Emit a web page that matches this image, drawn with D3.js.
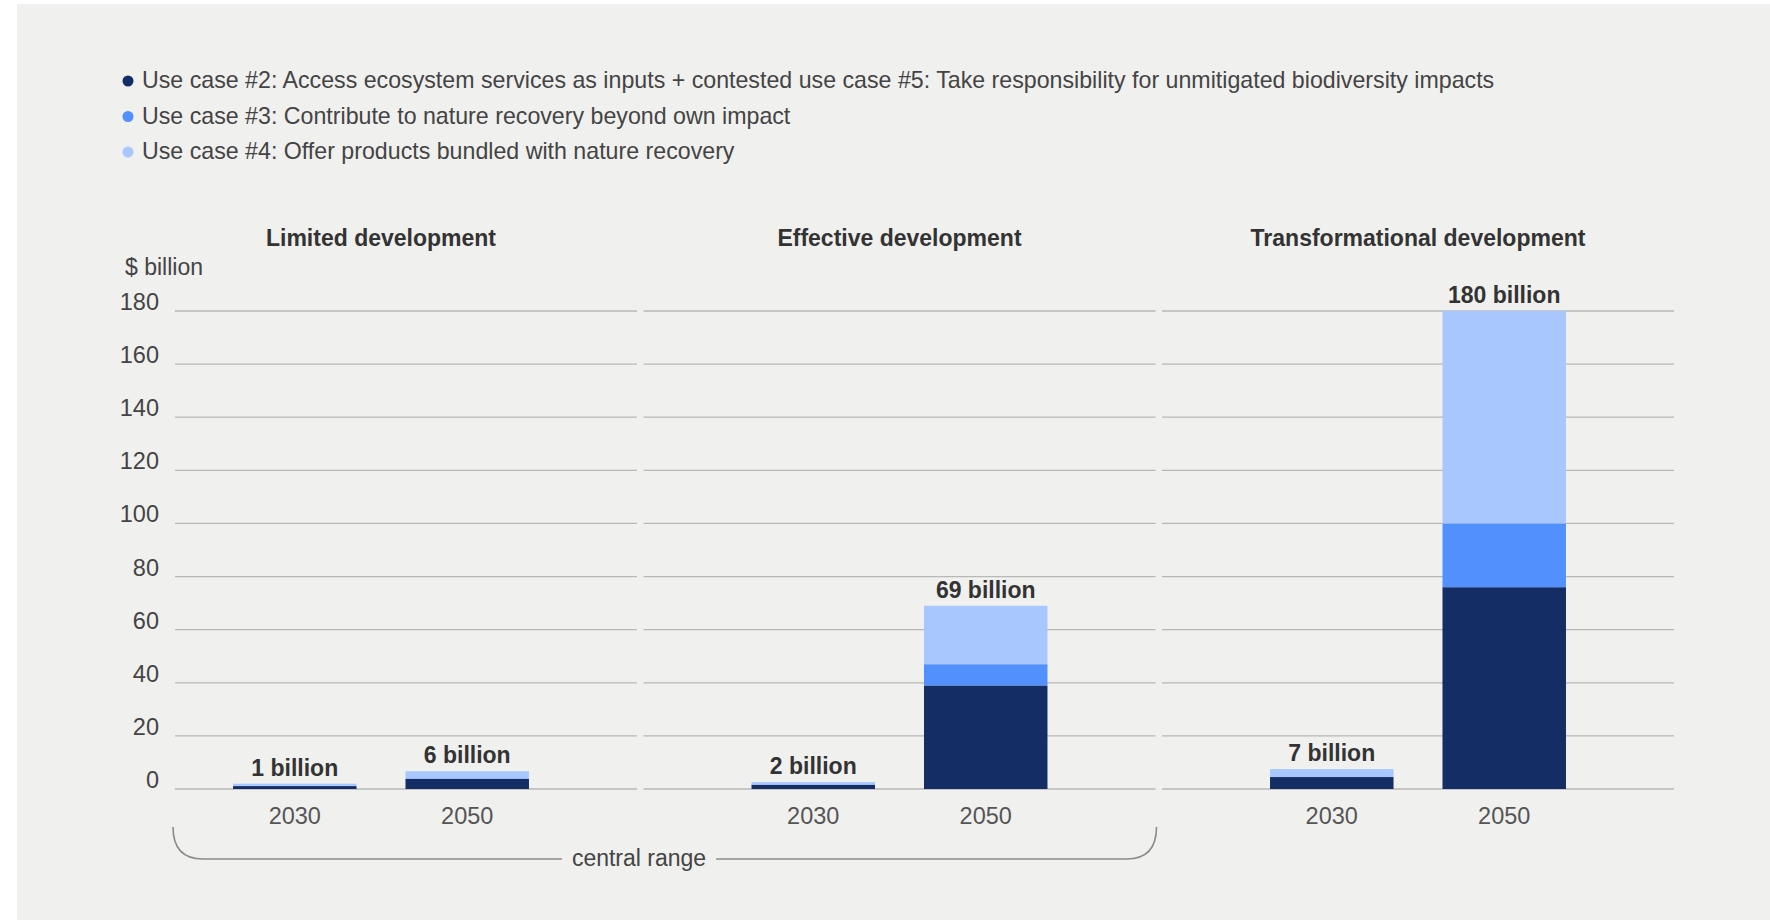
<!DOCTYPE html>
<meta charset="utf-8">
<style>
    body{ margin:0; background:#fff; }
    svg text{ font-family:"Liberation Sans", Arial, sans-serif; }
</style>
<svg id="chart" width="1770" height="920"></svg>
<script src="https://cdn.jsdelivr.net/npm/d3@7"></script>
<script>

// values ($ billion)
var scenarios = ["Limited development", "Effective development", "Transformational development"];
var years = ["2030", "2050"];
var seriesNames = [
    "Use case #2: Access ecosystem services as inputs + contested use case #5: Take responsibility for unmitigated biodiversity impacts",
    "Use case #3: Contribute to nature recovery beyond own impact",
    "Use case #4: Offer products bundled with nature recovery"
];
var seriesColors = ["#142d64", "#5290fe", "#a8c7fe"];
// one value per scenario/year, order: limited 2030, limited 2050, effective 2030, effective 2050, transf 2030, transf 2050
var useCase2 = [1.1, 3.8, 1.6, 39, 4.5, 76];
var useCase3 = [0.1, 0.2, 0.1, 8, 0.2, 24];
var useCase4 = [0.8, 2.7, 0.9, 22, 2.8, 80];
var totalLabels = ["1 billion", "6 billion", "2 billion", "69 billion", "7 billion", "180 billion"];
var yTicks = [0, 20, 40, 60, 80, 100, 120, 140, 160, 180];

var rows = [];
scenarios.forEach(function(s, i){
    years.forEach(function(y, j){
        var k = i * years.length + j;
        rows.push({scenario: s, year: y, u2: useCase2[k], u3: useCase3[k], u4: useCase4[k], label: totalLabels[k]});
    });
});

var svg = d3.select("#chart");

svg.append("rect")
    .attr("x", 17).attr("y", 4)
    .attr("width", 1753).attr("height", 916)
    .attr("fill", "#f0f0ee");

// legend
var legend = svg.append("g");
seriesNames.forEach(function(name, i){
    var ly = 88 + i * 35.5;
    legend.append("circle")
        .attr("cx", 128).attr("cy", ly - 7).attr("r", 5.5)
        .attr("fill", seriesColors[i]);
    legend.append("text")
        .attr("x", 142).attr("y", ly)
        .attr("font-size", 23.2)
        .attr("fill", "#444")
        .text(name);
});

var panelX = d3.scaleBand()
    .domain(scenarios)
    .range([123, 1676])
    .paddingInner(0.0048);

var x = d3.scaleBand()
    .domain(years)
    .range([0, panelX.bandwidth()])
    .paddingInner(0.284)
    .paddingOuter(0.638);

var y = d3.scaleLinear()
    .domain([0, 180])
    .range([789, 311]);

var stack = d3.stack().keys(["u2", "u3", "u4"]);

// y axis labels
svg.append("text")
    .attr("x", 125).attr("y", 275)
    .attr("font-size", 23)
    .attr("fill", "#444")
    .text("$ billion");

svg.append("g").selectAll("text")
    .data(yTicks)
  .enter().append("text")
    .attr("x", 159)
    .attr("y", function(d){ return y(d) - 1; })
    .attr("text-anchor", "end")
    .attr("font-size", 23.5)
    .attr("fill", "#444")
    .text(function(d){ return d; });

scenarios.forEach(function(s, i){
    var g = svg.append("g").attr("transform", "translate(" + panelX(s) + ",0)");
    var data = rows.filter(function(r){ return r.scenario === s; });
    var gridStart = i === 0 ? 175 - panelX(s) : 2;

    g.append("text")
        .attr("x", panelX.bandwidth() / 2).attr("y", 246)
        .attr("text-anchor", "middle")
        .attr("font-size", 23)
        .attr("font-weight", "bold")
        .attr("fill", "#333")
        .text(s);

    g.selectAll(".grid")
        .data(yTicks)
      .enter().append("line")
        .attr("x1", gridStart)
        .attr("x2", panelX.bandwidth() - 2)
        .attr("y1", function(d){ return y(d); })
        .attr("y2", function(d){ return y(d); })
        .attr("stroke", "#b8b8b8")
        .attr("stroke-width", 1.3);

    var layers = stack(data);
    g.selectAll(".layer")
        .data(layers)
      .enter().append("g")
        .attr("fill", function(d, k){ return seriesColors[k]; })
      .selectAll("rect")
        .data(function(d){ return d; })
      .enter().append("rect")
        .attr("x", function(d){ return x(d.data.year); })
        .attr("width", x.bandwidth())
        .attr("y", function(d){ return y(d[1]); })
        .attr("height", function(d){ return y(d[0]) - y(d[1]); });

    g.selectAll(".total")
        .data(data)
      .enter().append("text")
        .attr("x", function(d){ return x(d.year) + x.bandwidth() / 2; })
        .attr("y", function(d){ return y(d.u2 + d.u3 + d.u4) - 8; })
        .attr("text-anchor", "middle")
        .attr("font-size", 23)
        .attr("font-weight", "bold")
        .attr("fill", "#333")
        .text(function(d){ return d.label; });

    g.selectAll(".year")
        .data(years)
      .enter().append("text")
        .attr("x", function(d){ return x(d) + x.bandwidth() / 2; })
        .attr("y", 824)
        .attr("text-anchor", "middle")
        .attr("font-size", 23.5)
        .attr("fill", "#555")
        .text(function(d){ return d; });
});

// "central range" brace under the first two panels
var bx0 = 173,
    bx1 = panelX(scenarios[1]) + panelX.bandwidth() - 1,
    bTop = 827, bY = 859, r = 30,
    tx = 639;

var label = svg.append("text")
    .attr("x", tx).attr("y", 866)
    .attr("text-anchor", "middle")
    .attr("font-size", 23)
    .attr("fill", "#444")
    .text("central range");
var half = label.node().getComputedTextLength() / 2 + 10;

svg.append("path")
    .attr("d", "M" + bx0 + "," + bTop + " Q" + bx0 + "," + bY + " " + (bx0 + r) + "," + bY + " H" + (tx - half)
        + " M" + (tx + half) + "," + bY + " H" + (bx1 - r) + " Q" + bx1 + "," + bY + " " + bx1 + "," + bTop)
    .attr("fill", "none")
    .attr("stroke", "#8a8a8a")
    .attr("stroke-width", 1.6);

</script>
